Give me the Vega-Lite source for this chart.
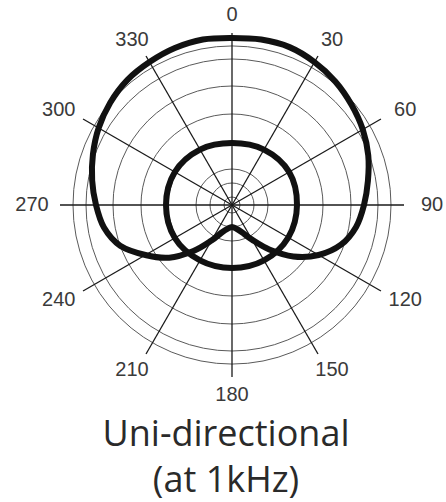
{
  "$schema": "https://vega.github.io/schema/vega-lite/v6.json",
  "width": 400,
  "height": 400,
  "autosize": {"type": "none"},
  "padding": {"left": 32, "top": 5, "right": 14, "bottom": 97},
  "background": "white",
  "config": {"view": {"stroke": null}},
  "title": {
    "text": ["Uni-directional", "(at 1kHz)"],
    "orient": "bottom",
    "frame": "group",
    "anchor": "middle",
    "baseline": "alphabetic",
    "offset": 41,
    "dx": -6,
    "fontSize": 36,
    "font": "Open Sans",
    "fontWeight": "normal",
    "color": "#2a2a2a",
    "lineHeight": 46
  },
  "datasets": {
    "grid": [{"r": 8}, {"r": 22}, {"r": 36}, {"r": 64}, {"r": 91}, {"r": 119}, {"r": 146}, {"r": 159}],
    "spokes": [{"angle": 0}, {"angle": 30}, {"angle": 60}, {"angle": 90}, {"angle": 120}, {"angle": 150}, {"angle": 180}, {"angle": 210}, {"angle": 240}, {"angle": 270}, {"angle": 300}, {"angle": 330}],
    "outer": [
      {"angle": 0, "r": 167}, {"angle": 10, "r": 168}, {"angle": 20, "r": 168}, {"angle": 30, "r": 165},
      {"angle": 40, "r": 161}, {"angle": 50, "r": 156}, {"angle": 60, "r": 151}, {"angle": 70, "r": 145},
      {"angle": 80, "r": 138}, {"angle": 90, "r": 132}, {"angle": 100, "r": 126}, {"angle": 110, "r": 116},
      {"angle": 120, "r": 100}, {"angle": 130, "r": 80}, {"angle": 140, "r": 58}, {"angle": 150, "r": 40},
      {"angle": 160, "r": 29}, {"angle": 170, "r": 24}, {"angle": 180, "r": 22}, {"angle": 190, "r": 24},
      {"angle": 200, "r": 29}, {"angle": 210, "r": 41}, {"angle": 220, "r": 60}, {"angle": 230, "r": 82},
      {"angle": 240, "r": 100}, {"angle": 250, "r": 119}, {"angle": 260, "r": 130}, {"angle": 270, "r": 136},
      {"angle": 280, "r": 142}, {"angle": 290, "r": 148}, {"angle": 300, "r": 154}, {"angle": 310, "r": 159},
      {"angle": 320, "r": 163}, {"angle": 330, "r": 165}, {"angle": 340, "r": 167}, {"angle": 350, "r": 168}
    ],
    "inner": [
      {"angle": 0, "r": 62}, {"angle": 30, "r": 64}, {"angle": 60, "r": 66}, {"angle": 90, "r": 65},
      {"angle": 120, "r": 65}, {"angle": 150, "r": 64}, {"angle": 180, "r": 63}, {"angle": 210, "r": 64},
      {"angle": 240, "r": 66}, {"angle": 270, "r": 66}, {"angle": 300, "r": 66}, {"angle": 330, "r": 64}
    ]
  },
  "layer": [
    {
      "data": {"name": "grid"},
      "mark": {"type": "point", "shape": "circle", "filled": false, "stroke": "#5a5a5a", "strokeWidth": 1, "opacity": 1},
      "encoding": {
        "x": {"datum": 0, "type": "quantitative", "scale": {"domain": [-200, 200]}, "axis": null},
        "y": {"datum": 0, "type": "quantitative", "scale": {"domain": [-200, 200]}, "axis": null},
        "size": {"field": "r", "type": "quantitative", "legend": null, "scale": {"type": "pow", "exponent": 2, "domain": [0, 200], "range": [0, 160000], "zero": true}}
      }
    },
    {
      "data": {"name": "spokes"},
      "transform": [
        {"calculate": "172 * sin(datum.angle * PI / 180)", "as": "ex"},
        {"calculate": "172 * cos(datum.angle * PI / 180)", "as": "ey"}
      ],
      "mark": {"type": "rule", "color": "#1a1a1a", "strokeWidth": 1.3},
      "encoding": {
        "x": {"field": "ex", "type": "quantitative", "scale": {"domain": [-200, 200]}, "axis": null},
        "y": {"field": "ey", "type": "quantitative", "scale": {"domain": [-200, 200]}, "axis": null},
        "x2": {"datum": 0},
        "y2": {"datum": 0}
      }
    },
    {
      "data": {"name": "inner"},
      "transform": [
        {"calculate": "datum.r * sin(datum.angle * PI / 180)", "as": "x"},
        {"calculate": "datum.r * cos(datum.angle * PI / 180)", "as": "y"}
      ],
      "mark": {"type": "line", "interpolate": "cardinal-closed", "color": "#111111", "strokeWidth": 6},
      "encoding": {
        "x": {"field": "x", "type": "quantitative", "scale": {"domain": [-200, 200]}, "axis": null},
        "y": {"field": "y", "type": "quantitative", "scale": {"domain": [-200, 200]}, "axis": null},
        "order": {"field": "angle", "type": "quantitative"}
      }
    },
    {
      "data": {"name": "outer"},
      "transform": [
        {"calculate": "datum.r * sin(datum.angle * PI / 180)", "as": "x"},
        {"calculate": "datum.r * cos(datum.angle * PI / 180)", "as": "y"}
      ],
      "mark": {"type": "line", "interpolate": "cardinal-closed", "color": "#111111", "strokeWidth": 6},
      "encoding": {
        "x": {"field": "x", "type": "quantitative", "scale": {"domain": [-200, 200]}, "axis": null},
        "y": {"field": "y", "type": "quantitative", "scale": {"domain": [-200, 200]}, "axis": null},
        "order": {"field": "angle", "type": "quantitative"}
      }
    },
    {
      "data": {"name": "spokes"},
      "transform": [
        {"calculate": "200 * sin(datum.angle * PI / 180)", "as": "lx"},
        {"calculate": "190 * cos(datum.angle * PI / 180)", "as": "ly"}
      ],
      "mark": {"type": "text", "font": "Liberation Sans", "fontSize": 20, "color": "#3a3a3a", "align": "center", "baseline": "middle"},
      "encoding": {
        "x": {"field": "lx", "type": "quantitative", "scale": {"domain": [-200, 200]}, "axis": null},
        "y": {"field": "ly", "type": "quantitative", "scale": {"domain": [-200, 200]}, "axis": null},
        "text": {"field": "angle", "type": "quantitative"}
      }
    }
  ]
}
